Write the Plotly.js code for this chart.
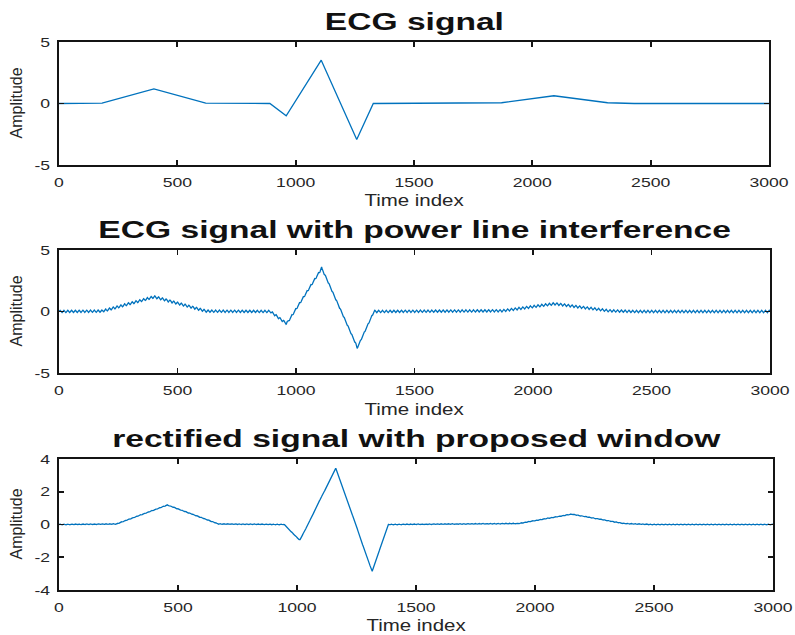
<!DOCTYPE html>
<html>
<head>
<meta charset="utf-8">
<script src="https://cdn.plot.ly/plotly-3.0.1.min.js"></script>
<style>
  html, body { margin: 0; padding: 0; background: #ffffff; }
  #chart { width: 795px; height: 635px; }
</style>
</head>
<body>
<div id="chart"></div>
<script>
// ---- data -------------------------------------------------------------
// Vertices of one ECG beat (sample index, amplitude): P, Q, R, S, T.
const ecgIdx = [0, 182, 401, 620, 891, 960, 1108, 1258, 1328, 1870, 2091, 2318, 2430, 2660, 3000];
const ecgAmp = [0, 0.03, 1.19, 0.03, 0.0, -1.0, 3.52, -2.92, 0.0, 0.06, 0.63, 0.06, 0.0, 0.0, 0.0];

// Vertices of the rectified (windowed) beat, delayed by the window.
const rectIdx = [0, 240, 455, 670, 945, 1012, 1163, 1316, 1384, 1930, 2152, 2372, 2490, 2715, 3000];
const rectAmp = [0, 0.03, 1.19, 0.03, 0.0, -0.97, 3.46, -2.88, 0.0, 0.06, 0.63, 0.06, 0.0, 0.0, 0.0];

// Power line hum riding on the signal, and what is left after the window.
const humAmplitude = 0.1;
const humPeriod = 16;          // samples per mains cycle
const residualAmplitude = 0.025;
const nSamples = 3000;

const xTicks = [0, 500, 1000, 1500, 2000, 2500, 3000];
const yTicksTop = [-5, 0, 5];
const yTicksBottom = [-4, -2, 0, 2, 4];

const panelTitles = ['ECG signal', 'ECG signal with power line interference', 'rectified signal with proposed window'];
const xLabel = 'Time index';
const yLabel = 'Amplitude';

// ---- helpers ------------------------------------------------------------
// value of the polyline through (xs, ys) at sample n
function polyAt(xs, ys, n) {
  for (let i = 0; i < xs.length - 1; i++) {
    if (n >= xs[i] && n <= xs[i + 1]) {
      const t = (n - xs[i]) / (xs[i + 1] - xs[i]);
      return ys[i] + t * (ys[i + 1] - ys[i]);
    }
  }
  return ys[ys.length - 1];
}

const sampleIdx = [];
const noisy = [];
const rectified = [];
for (let n = 0; n < nSamples; n++) {
  sampleIdx.push(n);
  const hum = Math.sin(2 * Math.PI * n / humPeriod);
  noisy.push(polyAt(ecgIdx, ecgAmp, n) + humAmplitude * hum);
  rectified.push(polyAt(rectIdx, rectAmp, n) + residualAmplitude * hum);
}

// ---- layout -------------------------------------------------------------
const W = 795, H = 635;
const fx = px => px / W;
const fy = px => (H - px) / H;

// pixel boxes of the three panels: [left, right, top, bottom]
const boxes = [[59, 769, 42, 165], [59, 770, 250, 373], [59, 773, 459, 590]];
const titleY = [22, 230, 439];
const xLabelY = [200, 409, 625];

const lineColor = '#0072BD';
const axisColor = '#141414';
const textColor = '#262626';
const font = 'Liberation Sans, Arial, Helvetica, sans-serif';

function xAxis(i) {
  const b = boxes[i];
  return {
    domain: [fx(b[0]), fx(b[1])],
    anchor: 'y' + (i ? i + 1 : ''),
    range: [0, 3000],
    tickmode: 'array', tickvals: xTicks, ticktext: xTicks.map(String),
    ticks: 'inside', ticklen: 5, tickwidth: 1.8, tickcolor: axisColor,
    showline: true, linewidth: 2.2, linecolor: axisColor, mirror: 'ticks',
    showgrid: false, zeroline: false,
    tickfont: { family: font, size: 13.5, color: textColor },
    ticklabelstandoff: 4,
    fixedrange: true
  };
}
function yAxis(i, range, ticks) {
  const b = boxes[i];
  return {
    domain: [fy(b[3]), fy(b[2])],
    anchor: 'x' + (i ? i + 1 : ''),
    range: range,
    tickmode: 'array', tickvals: ticks, ticktext: ticks.map(String),
    ticks: 'inside', ticklen: 5, tickwidth: 1.8, tickcolor: axisColor,
    showline: true, linewidth: 2.2, linecolor: axisColor, mirror: 'ticks',
    showgrid: false, zeroline: false,
    tickfont: { family: font, size: 13.5, color: textColor },
    ticklabelstandoff: 4,
    fixedrange: true
  };
}

const annotations = [];
boxes.forEach((b, i) => {
  annotations.push({
    xref: 'paper', yref: 'paper', x: fx((b[0] + b[1]) / 2), y: fy(titleY[i]),
    xanchor: 'center', yanchor: 'middle', showarrow: false,
    text: '<b>' + panelTitles[i] + '</b>',
    font: { family: font, size: 23, color: '#111111' }
  });
});
boxes.forEach((b, i) => {
  annotations.push({
    xref: 'paper', yref: 'paper', x: fx((b[0] + b[1]) / 2), y: fy(xLabelY[i]),
    xanchor: 'center', yanchor: 'middle', showarrow: false,
    text: xLabel, font: { family: font, size: 16.5, color: textColor }
  });
  annotations.push({
    xref: 'paper', yref: 'paper', x: fx(16), y: fy((b[2] + b[3]) / 2),
    xanchor: 'center', yanchor: 'middle', showarrow: false, textangle: -90,
    text: yLabel, font: { family: font, size: 16, color: textColor }
  });
});

const traces = [
  { x: ecgIdx, y: ecgAmp, xaxis: 'x', yaxis: 'y' },
  { x: sampleIdx, y: noisy, xaxis: 'x2', yaxis: 'y2' },
  { x: sampleIdx, y: rectified, xaxis: 'x3', yaxis: 'y3' }
].map(t => Object.assign(t, {
  type: 'scatter', mode: 'lines', hoverinfo: 'skip', showlegend: false,
  line: { color: lineColor, width: 1.3 }
}));

const layout = {
  width: W, height: H,
  margin: { l: 0, r: 0, t: 0, b: 0 },
  paper_bgcolor: '#ffffff', plot_bgcolor: '#ffffff',
  showlegend: false,
  xaxis: xAxis(0), yaxis: yAxis(0, [-5, 5], yTicksTop),
  xaxis2: xAxis(1), yaxis2: yAxis(1, [-5, 5], yTicksTop),
  xaxis3: xAxis(2), yaxis3: yAxis(2, [-4, 4], yTicksBottom),
  annotations: annotations
};

// the figure uses a wide typeface for titles, axis labels and tick numbers
function widen(selector, k) {
  document.querySelectorAll(selector).forEach(t => {
    if (t.hasAttribute('textLength')) return;
    const w = t.getComputedTextLength();
    if (w > 0) {
      t.setAttribute('textLength', (w * k).toFixed(1));
      t.setAttribute('lengthAdjust', 'spacingAndGlyphs');
    }
  });
}
function widenAll() {
  widen('g.xaxislayer-above text, g.yaxislayer-above text', 1.3);
  widen('g.annotation[data-index="0"] text, g.annotation[data-index="1"] text, g.annotation[data-index="2"] text', 1.46);
  widen('g.annotation[data-index="3"] text, g.annotation[data-index="5"] text, g.annotation[data-index="7"] text', 1.24);
}

Plotly.newPlot('chart', traces, layout, { displayModeBar: false, staticPlot: true }).then(() => {
  widenAll();
  setTimeout(widenAll, 50);
});
</script>
</body>
</html>
